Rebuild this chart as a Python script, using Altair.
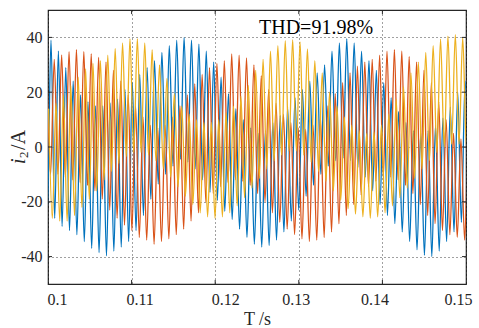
import altair as alt
import pandas as pd

# ---------------- data ----------------
PERIOD = 0.0008845          # high-frequency ripple period (s)
START = 0.100359            # time of first blue crest (s)
RED_SHIFT = 0.44            # crest offset in ripple periods
YEL_SHIFT = 0.68

# crest values (k = -1 .. 56) and trough values (k = -0.5 .. 56.5)
blue_peaks = [40,
              39, 35, 29, 24, 19, 16.5, 15, 15, 16, 17.5,
              21, 23.5, 26.5, 29, 31.5, 34.5, 37, 39, 40, 39,
              37.5, 35, 31, 25.5, 19.5, 14, 10, 7, 5, 6,
              9, 11.5, 14.5, 18, 21, 24, 27, 30, 35, 38,
              39.5, 38, 35, 31.5, 28, 23.5, 18, 13, 9, 6,
              5, 6, 8, 10.5, 14.5, 20, 24]
blue_troughs = [-24,
                -26, -29, -30.5, -32, -34.5, -37, -38.5, -39.7, -38, -36.5,
                -34.5, -30.5, -25, -19, -13.5, -10, -7, -4.5, -5.5, -8,
                -12, -16.5, -19.5, -23.5, -26.5, -30, -33, -35.5, -36.5, -36,
                -34, -31, -27, -23, -18, -14, -10, -7, -5, -4,
                -5, -7.5, -11, -16, -21, -25, -28, -31, -34.5, -37.5,
                -39.5, -40, -38, -34.5, -31, -27.5, -24]
red_peaks = [30,
             32, 33.6, 34.8, 35.5, 34.8, 34, 32.7, 31, 28, 24,
             19, 15, 11, 8, 7, 8, 11, 15, 19, 23,
             26.5, 29, 30.5, 31.5, 34, 33.5, 32.5, 30, 26, 21,
             16, 12, 9, 7, 6.5, 8, 11, 15, 19.5, 23.5,
             27, 29.5, 31, 32, 33.5, 35, 35.5, 35, 33, 31,
             28, 23.5, 16.5, 10, 5, 3, 2]
red_troughs = [-10,
               -10, -11, -12, -13, -14, -16, -19, -23, -26, -28.5,
               -30.5, -33, -34, -35.5, -34.5, -33.5, -32, -30, -27, -24,
               -20, -17, -14.5, -13, -12, -12.5, -14, -17, -20, -24,
               -27.5, -30, -32, -33.5, -34.5, -34, -33, -31, -28, -25,
               -21, -17.5, -14.5, -12.5, -11, -11, -12, -14, -17, -21,
               -25, -28, -30.5, -32, -33, -34, -35]
yellow_peaks = [14,
                16, 19, 22.5, 25.5, 28.5, 30.5, 31.5, 33.5, 36, 38,
                39.5, 39.5, 38, 35.5, 30, 25, 19.5, 15, 12, 10,
                9, 9, 10, 12.5, 15, 18.5, 22.5, 28, 32, 35,
                37, 38.8, 39.2, 38.4, 35.8, 31.5, 27, 20, 15, 11,
                8, 6, 5, 5.5, 8, 12, 17.5, 22, 27, 31,
                34.5, 37, 39.4, 40.5, 41, 40, 38]
yellow_troughs = [-26,
                  -27, -27, -25, -22, -19, -16, -12, -9, -6, -3.5,
                  -2, -2, -3, -5, -8, -11, -14.5, -18, -21, -24,
                  -25.5, -26, -25.5, -24, -21.5, -18.5, -15, -11.5, -8, -5,
                  -3, -1.5, -1.5, -3, -5.5, -9, -12.5, -16, -19.5, -22.5,
                  -24.5, -25.5, -26, -25.5, -24, -21.5, -18.5, -15, -11.5, -8,
                  -5, -2, 0, 1, 1, 0, -1]

x_ticks = [0.1, 0.11, 0.12, 0.13, 0.14, 0.15]
y_ticks = [-40, -20, 0, 20, 40]
thd_label = ["THD=91.98%"]
thd_pos_t = [0.12524]
thd_pos_i = [41.4]

X_DOMAIN = [0.1, 0.15]
Y_DOMAIN = [-50, 50]


def build(peaks, troughs, shift):
    rows = []
    for j, (p, q) in enumerate(zip(peaks, troughs)):
        k = j - 1
        t = START + (k + shift) * PERIOD
        rows.append({"t": t, "i": p, "o": 2 * j})
        rows.append({"t": t + PERIOD / 2, "i": q, "o": 2 * j + 1})
    return pd.DataFrame(rows)


blue_df = build(blue_peaks, blue_troughs, 0.0)
red_df = build(red_peaks, red_troughs, RED_SHIFT)
yel_df = build(yellow_peaks, yellow_troughs, YEL_SHIFT)

FONT = "Liberation Serif"
TXT = "#262626"

# the reference's x tick labels sit a little off their ticks
x_label_shift = {"expr": "datum.value < 0.105 ? 9 : datum.value < 0.115 ? 8 : "
                         "datum.value < 0.125 ? 10 : datum.value < 0.135 ? -3 : -8"}

x_enc = alt.X("t:Q",
              scale=alt.Scale(domain=X_DOMAIN, nice=False, zero=False),
              axis=alt.Axis(values=x_ticks, format=".2~f", title="T /s",
                            grid=True, ticks=False, domain=False,
                            labelFont=FONT, labelFontSize=16, labelColor=TXT,
                            labelPadding=7, labelFlush=False,
                            labelOffset=x_label_shift,
                            titleFont=FONT, titleFontSize=18, titleColor=TXT,
                            titleFontWeight="normal", titlePadding=3,
                            gridColor="#000000", gridDash=[1, 3],
                            gridOpacity=0.75, gridWidth=1))
y_enc = alt.Y("i:Q",
              scale=alt.Scale(domain=Y_DOMAIN, nice=False, zero=False),
              axis=alt.Axis(values=y_ticks, title=None,
                            labelExpr="'' + datum.value",
                            grid=True, ticks=False, domain=False,
                            labelFont=FONT, labelFontSize=16, labelColor=TXT,
                            labelPadding=6, labelFlush=False,
                            gridColor="#000000", gridDash=[1, 3],
                            gridOpacity=0.75, gridWidth=1))


def wave(df, color):
    return alt.Chart(df).mark_line(
        interpolate="monotone", clip=True, strokeWidth=1.3, color=color
    ).encode(x=x_enc, y=y_enc, order="o:Q")


# inward tick marks, driven by the tick values through the scales
TLX = 0.00048
TLY = 1.5
tick_rows = []
for v in x_ticks[1:-1]:
    tick_rows.append({"t": v, "t2": v, "i": Y_DOMAIN[0], "i2": Y_DOMAIN[0] + TLY})
    tick_rows.append({"t": v, "t2": v, "i": Y_DOMAIN[1], "i2": Y_DOMAIN[1] - TLY})
for v in y_ticks:
    tick_rows.append({"t": X_DOMAIN[0], "t2": X_DOMAIN[0] + TLX, "i": v, "i2": v})
    tick_rows.append({"t": X_DOMAIN[1], "t2": X_DOMAIN[1] - TLX, "i": v, "i2": v})
ticks = alt.Chart(pd.DataFrame(tick_rows)).mark_rule(
    color="#262626", strokeWidth=1
).encode(x=x_enc, x2="t2:Q", y=y_enc, y2="i2:Q")

thd = alt.Chart(pd.DataFrame({"t": thd_pos_t, "i": thd_pos_i, "label": thd_label})).mark_text(
    align="left", baseline="alphabetic", font=FONT, fontSize=20, color="#000000"
).encode(x=x_enc, y=y_enc, text="label:N")

# y-axis title "i2 /A" with italic i and subscript 2 (placed in pixels left of the plot)
title_base = alt.Chart(pd.DataFrame({"a": [0]}))
yt_i = title_base.mark_text(
    text="i", angle=270, align="left", baseline="middle", font=FONT,
    fontSize=20, fontStyle="italic", color=TXT
).encode(x=alt.value(-29), y=alt.value(154))
yt_2 = title_base.mark_text(
    text="2", angle=270, align="left", baseline="middle", font=FONT,
    fontSize=13, color=TXT
).encode(x=alt.value(-24), y=alt.value(148))
yt_a = title_base.mark_text(
    text="/A", angle=270, align="left", baseline="middle", font=FONT,
    fontSize=20, color=TXT
).encode(x=alt.value(-29), y=alt.value(140))

chart = alt.layer(
    wave(blue_df, "#0072BD"),
    wave(red_df, "#D95319"),
    wave(yel_df, "#EDB120"),
    ticks,
    thd,
    yt_i, yt_2, yt_a,
).properties(
    width=418, height=274,
    autosize=alt.AutoSizeParams(type="none"),
    padding={"left": 48, "top": 10, "right": 13, "bottom": 44},
    background="white",
).configure_view(
    stroke="#262626", strokeWidth=1.2
)

chart.save("out.html", embed_options={"renderer": "svg", "actions": False})
